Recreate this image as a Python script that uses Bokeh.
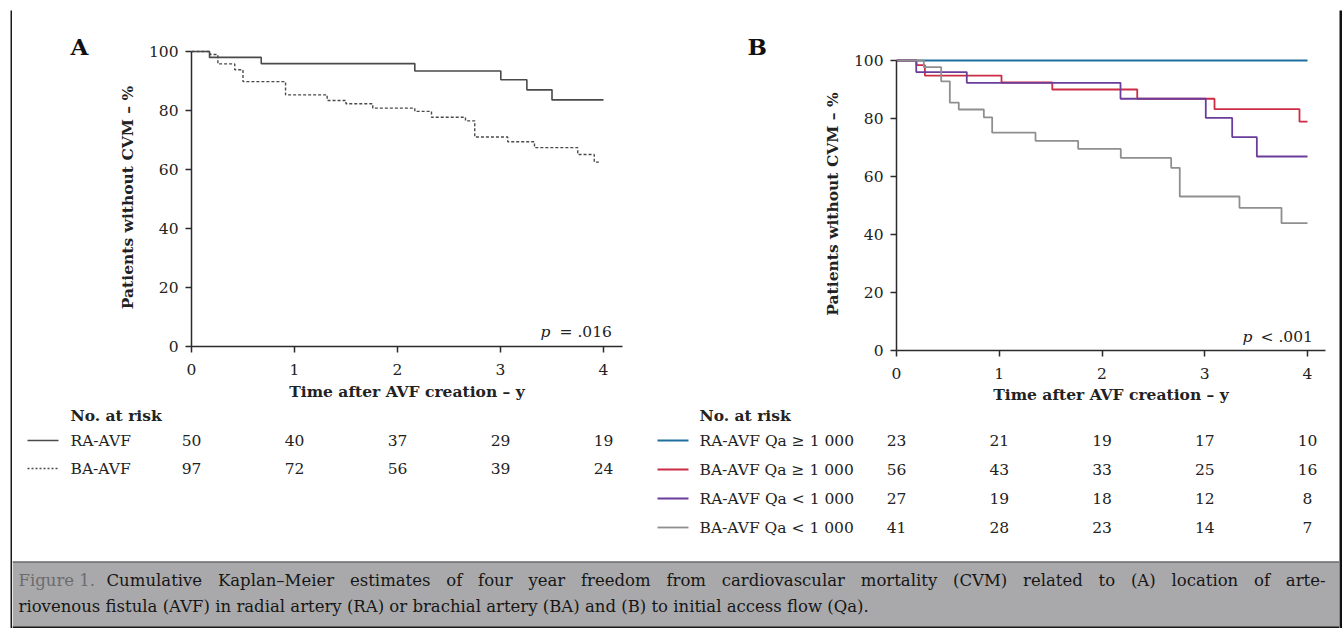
from bokeh.plotting import figure
from bokeh.layouts import row, column
from bokeh.models import Range1d, FixedTicker, Label, Spacer
from bokeh.core.properties import value
from bokeh.embed import file_html
from bokeh.resources import INLINE

FONT = "DejaVu Serif"
INK = "#222222"
FS = "15.5px"

# ---------------- data ----------------
years = [0, 1, 2, 3, 4]
pct_ticks = [0, 20, 40, 60, 80, 100]

# Panel A: location of AVF
ra_time = [0, 0.175, 0.677, 2.168, 3.003, 3.256, 3.500, 4.0]
ra_surv = [100, 98.0, 95.9, 93.4, 90.4, 87.0, 83.6, 83.6]
ba_time = [0, 0.18, 0.256, 0.42, 0.50, 0.913, 1.317, 1.50, 1.76, 2.168,
           2.33, 2.66, 2.75, 3.07, 3.33, 3.75, 3.91, 3.97]
ba_surv = [100, 99.0, 95.8, 93.8, 89.8, 85.3, 83.4, 82.3, 80.8, 79.7,
           77.7, 76.5, 71.0, 69.4, 67.4, 65.1, 62.5, 62.5]

# Panel B: location x initial access flow
ra_hi_time = [0, 4.0]
ra_hi_surv = [100, 100]
ba_hi_time = [0, 0.195, 0.276, 1.022, 1.516, 2.343, 3.095, 3.922, 4.0]
ba_hi_surv = [100, 98.4, 94.8, 92.4, 90.0, 86.8, 83.2, 78.9, 78.9]
ra_lo_time = [0, 0.192, 0.684, 2.180, 3.010, 3.267, 3.507, 4.0]
ra_lo_surv = [100, 96.0, 92.3, 86.8, 80.2, 73.6, 66.9, 66.9]
ba_lo_time = [0, 0.266, 0.435, 0.519, 0.606, 0.850, 0.931, 1.353, 1.768,
              2.183, 2.673, 2.757, 3.338, 3.747, 4.0]
ba_lo_surv = [100, 97.7, 92.8, 85.5, 83.1, 80.4, 75.1, 72.3, 69.5,
              66.4, 63.0, 53.1, 49.2, 43.9, 43.9]

risk_a_labels = ["RA-AVF", "BA-AVF"]
risk_a = [[50, 40, 37, 29, 19],
          [97, 72, 56, 39, 24]]
risk_b_labels = ["RA-AVF Qa \u2265 1 000", "BA-AVF Qa \u2265 1 000",
                 "RA-AVF Qa < 1 000", "BA-AVF Qa < 1 000"]
risk_b = [[23, 21, 19, 17, 10],
          [56, 43, 33, 25, 16],
          [27, 19, 18, 12, 8],
          [41, 28, 23, 14, 7]]

p_a_text = "= .016"
p_b_text = "< .001"
caption_head = "Figure 1."
caption_1 = ("Cumulative Kaplan\u2013Meier estimates of four year freedom from cardiovascular "
             "mortality (CVM) related to (A) location of arte-")
caption_2 = ("riovenous fistula (AVF) in radial artery (RA) or brachial artery (BA) and (B) "
             "to initial access flow (Qa).")

# ---------------- styles ----------------
col_a = "#4a4a4a"
col_ra_hi = "#1f6e9e"
col_ba_hi = "#cc2c44"
col_ra_lo = "#6a3d9a"
col_ba_lo = "#8f8f8f"
dash_a = "3 2"
BORDER = "#1a1a1a"

# layout geometry (page pixels): frame top, y of 0 %, y of 100 %
A_TOP, A_AXIS, A_Y100 = 48, 346, 51
B_TOP, B_AXIS, B_Y100 = 57, 352, 60
A_X0, A_PXY = 191, 103.0
B_X0, B_PXY = 896, 102.75
A_PXP = (A_AXIS - A_Y100) / 100.0
B_PXP = (B_AXIS - B_Y100) / 100.0
ROW1_TOP, ROW1_H = 10, 396


def blank(w, h, x0, x1, ytop, ybot, bg="white"):
    f = figure(width=w, height=h, x_range=Range1d(x0, x1), y_range=Range1d(ybot, ytop),
               x_axis_location=None, y_axis_location=None, title=None,
               output_backend="svg", toolbar_location=None, min_border=0)
    f.grid.visible = False
    f.outline_line_color = None
    f.background_fill_color = bg
    f.border_fill_color = bg
    return f


def km(w, left, right, frame_top, axis_y, pxy, pxp, letter, letter_left, xlab_standoff):
    top = frame_top - ROW1_TOP
    fw = w - left - right
    fh = axis_y - frame_top
    bottom = ROW1_H - top - fh
    f = figure(width=w, height=ROW1_H, x_range=Range1d(0, fw / pxy), y_range=Range1d(0, fh / pxp),
               output_backend="svg", toolbar_location=None,
               min_border_left=left, min_border_right=right,
               min_border_top=top, min_border_bottom=bottom)
    f.grid.visible = False
    f.outline_line_color = None
    # panel letter, drawn as the plot title
    f.title.text = letter
    f.title.align = "left"
    f.title.offset = letter_left - left
    f.title.vertical_align = "bottom"
    f.title.standoff = int(round(2 * (frame_top - 59)))
    f.title.text_font = FONT
    f.title.text_font_style = "bold"
    f.title.text_font_size = "23px"
    f.title.text_color = "#111111"
    f.xaxis.ticker = FixedTicker(ticks=years)
    f.yaxis.ticker = FixedTicker(ticks=pct_ticks)
    f.yaxis.bounds = (0, 100)
    f.axis.axis_line_color = "#2b2b2b"
    f.axis.axis_line_width = 1.5
    f.axis.major_tick_line_color = "#2b2b2b"
    f.axis.major_tick_line_width = 1.5
    f.axis.major_tick_out = 6
    f.axis.major_tick_in = 0
    f.axis.minor_tick_line_color = None
    f.axis.major_label_text_font = FONT
    f.axis.major_label_text_font_size = FS
    f.axis.major_label_text_color = INK
    f.axis.axis_label_text_font = FONT
    f.axis.axis_label_text_font_style = "bold"
    f.axis.axis_label_text_font_size = FS
    f.axis.axis_label_text_color = INK
    f.xaxis.axis_label = "Time after AVF creation \u2013 y"
    f.yaxis.axis_label = "Patients without CVM \u2013 %"
    f.xaxis.major_label_standoff = 11
    f.yaxis.major_label_standoff = 7
    f.xaxis.axis_label_standoff = xlab_standoff
    f.yaxis.axis_label_standoff = 9
    return f


def ptext(f, x_p, x_rest, y, rest):
    f.add_layout(Label(x=x_p, y=y, text="p", text_font=FONT, text_font_style="italic",
                       text_font_size=FS, text_color=INK, text_baseline="middle"))
    f.add_layout(Label(x=x_rest, y=y, text=rest, text_font=FONT,
                       text_font_size=FS, text_color=INK, text_baseline="middle"))


# ---------------- panel A ----------------
figA = km(648, A_X0 - 12, 660 - 622, A_TOP, A_AXIS, A_PXY, A_PXP, "A", 70 - 12, 4)
figA.step(ra_time, ra_surv, mode="after", line_color=col_a, line_width=1.6)
figA.step(ba_time, ba_surv, mode="after", line_color=col_a, line_width=1.4, line_dash=dash_a)
ptext(figA, (540 - A_X0) / A_PXY, (559 - A_X0) / A_PXY, 15 / A_PXP, p_a_text)

# ---------------- panel B ----------------
figB = km(679, B_X0 - 660, 1339 - 1325, B_TOP, B_AXIS, B_PXY, B_PXP, "B", 747 - 660, 3)
for t, s, c in [(ra_hi_time, ra_hi_surv, col_ra_hi), (ba_hi_time, ba_hi_surv, col_ba_hi),
                (ra_lo_time, ra_lo_surv, col_ra_lo), (ba_lo_time, ba_lo_surv, col_ba_lo)]:
    figB.step(t, s, mode="after", line_color=c, line_width=1.8)
ptext(figB, (1242 - B_X0) / B_PXY, (1260 - B_X0) / B_PXY, 14 / B_PXP, p_b_text)

# ---------------- number at risk tables ----------------
tab = blank(1327, 150, 12, 1339, 406, 556)
tab.extra_x_ranges = {
    "ta": Range1d((12 - A_X0) / A_PXY, (1339 - A_X0) / A_PXY),
    "tb": Range1d((12 - B_X0) / B_PXY, (1339 - B_X0) / B_PXY),
}


def txt(f, x, y, s, bold=False, align="left", rng="default"):
    f.text(x=x, y=y, text=s, text_font=value(FONT), text_font_style="bold" if bold else "normal",
           text_font_size=FS, text_align=align, text_baseline="middle", text_color=INK,
           x_range_name=rng)


txt(tab, [70], [415], ["No. at risk"], bold=True)
txt(tab, [699], [415], ["No. at risk"], bold=True)

rows_a_y = [440, 468]
for i, (lab, counts) in enumerate(zip(risk_a_labels, risk_a)):
    y = rows_a_y[i]
    tab.segment(x0=[27], y0=[y], x1=[58], y1=[y], line_color=col_a,
                line_width=1.5 if i == 0 else 1.3, line_dash="solid" if i == 0 else "2 2")
    txt(tab, [70], [y], [lab])
    txt(tab, years, [y] * len(years), [str(c) for c in counts], align="center", rng="ta")

rows_b_y = [440, 469, 498, 527]
cols_b = [col_ra_hi, col_ba_hi, col_ra_lo, col_ba_lo]
for i, (lab, counts) in enumerate(zip(risk_b_labels, risk_b)):
    y = rows_b_y[i]
    tab.segment(x0=[657], y0=[y], x1=[688], y1=[y], line_color=cols_b[i], line_width=1.8)
    txt(tab, [699], [y], [lab])
    txt(tab, years, [y] * len(years), [str(c) for c in counts], align="center", rng="tb")

# ---------------- caption (first line justified as in the print) ----------------
CFS_PX = 16.5


def widths(words, size):
    try:
        from PIL import ImageFont
        fnt = ImageFont.truetype("DejaVuSerif.ttf", 200)
        return [fnt.getlength(w) * size / 200.0 for w in words]
    except Exception:
        return [len(w) * 0.56 * size for w in words]


words1 = caption_1.split(" ")
w1 = widths(words1, CFS_PX)
x_start, x_end = 106, 1325
gap = (x_end - x_start - sum(w1)) / (len(words1) - 1)
xs1, xc = [], x_start
for w in w1:
    xs1.append(xc)
    xc += w + gap

cap = blank(1327, 72, 12, 1339, 556, 628)
cap.quad(left=[12], right=[1339], top=[561], bottom=[628], fill_color="#a9a9ab", line_color=None)
cap.segment(x0=[12], y0=[561.5], x1=[1339], y1=[561.5], line_color="#4a4a4a", line_width=1)
cap.quad(left=[12], right=[1339], top=[626], bottom=[628], fill_color=BORDER, line_color=None)
CFS = f"{CFS_PX}px"
cap.text(x=[18], y=[580], text=[caption_head], text_font=value(FONT), text_font_size=CFS,
         text_baseline="middle", text_color="#6c6c6e")
cap.text(x=xs1, y=[580] * len(words1), text=words1, text_font=value(FONT), text_font_size=CFS,
         text_baseline="middle", text_color="#161616")
cap.text(x=[18], y=[606], text=[caption_2], text_font=value(FONT), text_font_size=CFS,
         text_baseline="middle", text_color="#161616")

# ---------------- outer frame ----------------
topline = blank(1332, 2, 0, 1, 0, 1, bg=BORDER)
leftline = blank(2, 618, 0, 1, 0, 1, bg=BORDER)
rightline = blank(3, 618, 0, 1, 0, 1, bg="#111111")

# each KM plot wrapped in its own column so the two frames are not forced to align
inner = column(row(column(figA), column(figB)), tab, cap)
framed = column(topline, row(leftline, inner, rightline))
root = row(Spacer(width=10, height=628), column(Spacer(width=1332, height=8), framed))

open("out.html", "w").write(file_html(root, INLINE))
